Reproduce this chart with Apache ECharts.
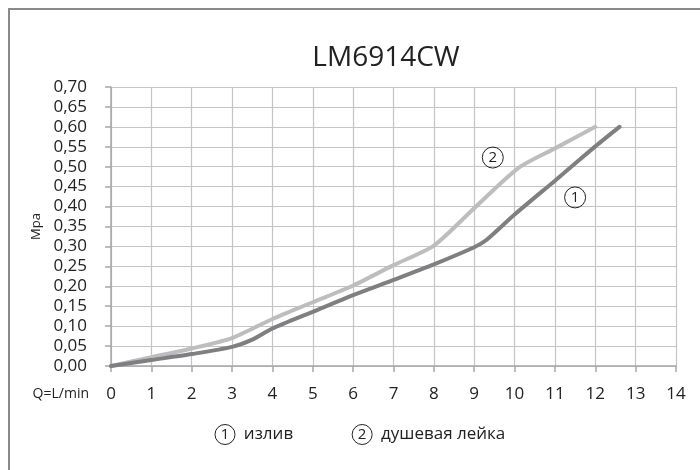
<!DOCTYPE html>
<html>
<head>
<meta charset="utf-8">
<script src="https://cdn.jsdelivr.net/npm/echarts@6/dist/echarts.min.js"></script>
<style>
html,body{margin:0;padding:0;background:#fff;}
#chart{width:700px;height:470px;}
</style>
</head>
<body>
<div id="chart"></div>
<script>
var titleText = 'LM6914CW';
var seriesNames = ['излив', 'душевая лейка'];
var seriesNums = ['1', '2'];
// Series 1 (излив)
var q1 = [0, 1, 2, 3, 3.5, 4, 5, 6, 7, 8, 9, 9.3, 10, 11, 12, 12.6];
var p1 = [0, 0.015, 0.03, 0.048, 0.066, 0.094, 0.136, 0.178, 0.216, 0.255, 0.298, 0.316, 0.38, 0.465, 0.551, 0.60];
// Series 2 (душевая лейка)
var q2 = [0, 1, 2, 3, 4, 5, 6, 7, 8, 9, 10.1, 11, 12];
var p2 = [0, 0.022, 0.044, 0.07, 0.118, 0.16, 0.202, 0.253, 0.302, 0.396, 0.497, 0.546, 0.60];
// annotation positions (data coordinates) for circled numbers
var annot1 = [11.5, 0.423];
var annot2 = [9.46, 0.523];
var xName = 'Q=L/min';
var yName = 'Mpa';

var FONT = '"Open Sans", "Noto Sans", sans-serif';
var colors = ['#7f7f81', '#bdbdbd'];

function pairs(xs, ys) { return xs.map(function (x, i) { return [x, ys[i]]; }); }

function markFor(coord, num) {
  return {
    symbol: 'circle',
    symbolSize: 21,
    silent: true,
    itemStyle: { color: 'rgba(255,255,255,0)', borderColor: '#222', borderWidth: 1 },
    label: { show: true, position: 'inside', formatter: num, color: '#222', fontSize: 15, fontFamily: FONT },
    data: [{ coord: coord }]
  };
}

var chart = echarts.init(document.getElementById('chart'), null, { renderer: 'canvas' });
chart.setOption({
  animation: false,
  backgroundColor: '#fff',
  title: {
    text: titleText,
    left: 381,
    top: 39,
    textAlign: 'center',
    textStyle: { fontFamily: FONT, fontSize: 28, fontWeight: 'normal', color: '#222' }
  },
  legend: {
    left: 205,
    top: 419,
    icon: 'none',
    itemWidth: 0,
    itemHeight: 20,
    itemGap: 54,
    selectedMode: false,
    data: seriesNames,
    formatter: function (name) {
      var i = seriesNames.indexOf(name);
      return '{n|' + seriesNums[i] + '}  ' + name;
    },
    textStyle: {
      fontFamily: FONT, fontSize: 17, color: '#222',
      rich: {
        n: { width: 20, height: 20, lineHeight: 20, align: 'center', verticalAlign: 'middle',
             borderColor: '#222', borderWidth: 1, borderRadius: 11, fontSize: 15, fontFamily: FONT, color: '#222' }
      }
    }
  },
  graphic: [{
    type: 'rect',
    shape: { x: 9, y: 9, width: 720, height: 500 },
    style: { fill: 'none', stroke: '#8a8a8a', lineWidth: 2 },
    silent: true,
    z: 100
  }],
  grid: { left: 111, right: 24, top: 87, bottom: 104, containLabel: false },
  xAxis: {
    type: 'value',
    min: 0, max: 14, interval: 1,
    name: xName,
    nameLocation: 'start',
    nameGap: 22,
    nameTextStyle: { fontFamily: FONT, fontSize: 14, color: '#222', verticalAlign: 'top', padding: [21, 0, 0, 0] },
    axisLine: { show: true, lineStyle: { color: '#a6a6a6', width: 1.5 } },
    axisTick: { show: true, length: 6, lineStyle: { color: '#a6a6a6', width: 1.5 } },
    axisLabel: { fontFamily: FONT, fontSize: 17, color: '#222', margin: 20 },
    splitLine: { show: true, lineStyle: { color: '#c4c4c4', width: 1.2 } }
  },
  yAxis: {
    type: 'value',
    min: 0, max: 0.7, interval: 0.05,
    name: yName,
    nameLocation: 'middle',
    nameGap: 67,
    nameTextStyle: { fontFamily: FONT, fontSize: 13, color: '#222' },
    axisLine: { show: true, lineStyle: { color: '#a6a6a6', width: 1.5 } },
    axisTick: { show: true, length: 6, lineStyle: { color: '#a6a6a6', width: 1.5 } },
    axisLabel: {
      fontFamily: FONT, fontSize: 17, color: '#222', margin: 24,
      formatter: function (v) { return v.toFixed(2).replace('.', ','); }
    },
    splitLine: { show: true, lineStyle: { color: '#c4c4c4', width: 1.2 } }
  },
  series: [
    {
      name: seriesNames[0],
      type: 'line',
      data: pairs(q1, p1),
      smooth: 0.25,
      showSymbol: false,
      symbol: 'none',
      lineStyle: { color: colors[0], width: 4, cap: 'round' },
      itemStyle: { color: colors[0] },
      z: 3,
      markPoint: markFor(annot1, seriesNums[0])
    },
    {
      name: seriesNames[1],
      type: 'line',
      data: pairs(q2, p2),
      smooth: 0.25,
      showSymbol: false,
      symbol: 'none',
      lineStyle: { color: colors[1], width: 4, cap: 'round' },
      itemStyle: { color: colors[1] },
      z: 2,
      markPoint: markFor(annot2, seriesNums[1])
    }
  ]
});
</script>
</body>
</html>
